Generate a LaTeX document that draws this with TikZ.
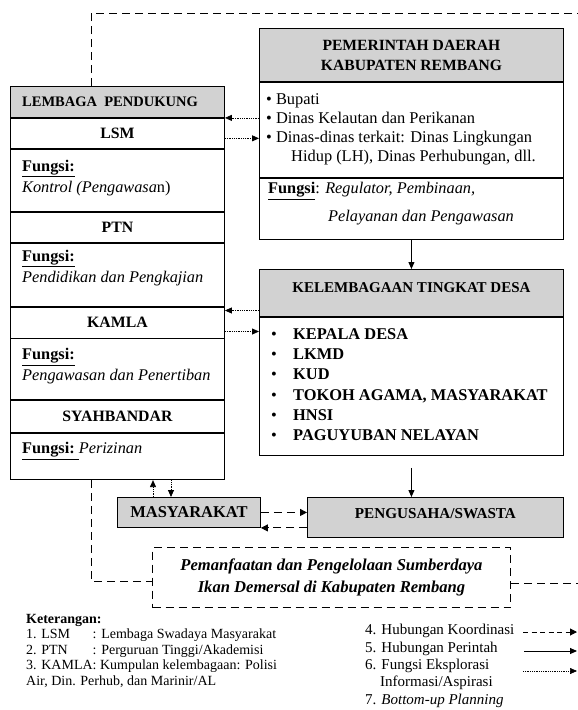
\documentclass[tikz,border=0pt]{standalone}
\usepackage{fontspec}
\usepackage{calc}
\setmainfont{Liberation Serif}
\usetikzlibrary{arrows.meta, positioning, calc}
\definecolor{headgray}{RGB}{210,210,210}
\newcommand{\fn}{\underline{\textbf{Fungsi:}}}
\newcommand{\bul}{\makebox[22pt][l]{\textbullet}}
\newcommand{\ketbox}[1]{\makebox[\widthof{3. KAMLA}][l]{#1}}

\begin{document}
\begin{tikzpicture}[x=1pt, y=-1pt,
  box/.style={draw, line width=0.9pt, inner sep=0pt, anchor=north west},
  headbox/.style={box, fill=headgray},
  koord/.style={line width=1pt, dash pattern=on 8pt off 5pt},
  koordarrow/.style={koord, -{Triangle[length=7pt,width=7pt]}},
  perintah/.style={line width=0.9pt, -{Triangle[length=7pt,width=6pt]}},
  info/.style={line width=0.8pt, dash pattern=on 0.8pt off 1pt, -{Triangle[length=7pt,width=6pt]}},
  hd/.style={inner sep=0pt, font=\fontsize{15.8}{18}\bfseries},
  txt/.style={inner sep=0pt, anchor=north west, align=left, font=\fontsize{16.3}{21}\selectfont},
  lg/.style={inner sep=0pt, anchor=north west, align=left, font=\fontsize{14}{15.5}\selectfont}
]
\useasboundingbox (0,0) rectangle (578,710);

% lembaga pendukung
\node[headbox, minimum width=214, minimum height=31] (lembHead) at (10,86) {};
\node[hd, anchor=west, font=\fontsize{14.5}{17}\bfseries] at ([xshift=12pt]lembHead.west) {LEMBAGA\ \ PENDUKUNG};
\node[box, hd, minimum width=214, minimum height=30] (lsm) at (lembHead.south west) {LSM};
\node[box, minimum width=214, minimum height=62] (lsmFn) at (lsm.south west) {};
\node[box, hd, minimum width=214, minimum height=30] (ptn) at (lsmFn.south west) {PTN};
\node[box, minimum width=214, minimum height=63] (ptnFn) at (ptn.south west) {};
\node[box, hd, minimum width=214, minimum height=31] (kamla) at (ptnFn.south west) {KAMLA};
\node[box, minimum width=214, minimum height=61] (kamlaFn) at (kamla.south west) {};
\node[box, hd, minimum width=214, minimum height=32] (syah) at (kamlaFn.south west) {SYAHBANDAR};
\node[box, minimum width=214, minimum height=46] (syahFn) at (syah.south west) {};
\node[txt] at ([xshift=12pt,yshift=-11pt]lsmFn.north west) {\fn\\\textit{Kontrol (Pengawasa}n)};
\node[txt] at ([xshift=12pt,yshift=-7pt]ptnFn.north west) {\fn\\\textit{Pendidikan dan Pengkajian}};
\node[txt] at ([xshift=12pt,yshift=-10pt]kamlaFn.north west) {\fn\\\textit{Pengawasan dan Penertiban}};
\node[txt] at ([xshift=12pt,yshift=-9pt]syahFn.north west) {\underline{\textbf{Fungsi:\ }}\textit{Perizinan}};

% pemerintah daerah
\node[headbox, minimum width=304, minimum height=53, align=center,
  font=\fontsize{15.6}{20}\bfseries] (pemdaHead) at (259,28) {PEMERINTAH DAERAH\\KABUPATEN REMBANG};
\node[box, minimum width=304, minimum height=95] (pemdaList) at (pemdaHead.south west) {};
\node[box, minimum width=304, minimum height=61] (pemdaFn) at (pemdaList.south west) {};
\node[txt, font=\fontsize{16.4}{19}\selectfont] at ([xshift=7pt,yshift=-11.5pt]pemdaList.north west)
  {\textbullet\ Bupati\\\textbullet\ Dinas Kelautan dan Perikanan\\\textbullet\ Dinas-dinas terkait: Dinas Lingkungan\\\hspace*{25pt}Hidup (LH), Dinas Perhubungan, dll.};
\node[txt, font=\fontsize{16.3}{28}\selectfont] at ([xshift=9pt,yshift=-4.5pt]pemdaFn.north west)
  {\underline{\textbf{Fungsi}}: \textit{Regulator, Pembinaan,}\\\hspace*{60pt}\textit{Pelayanan dan Pengawasan}};

% kelembagaan desa
\node[headbox, minimum width=304, minimum height=47] (desaHead) at (259,269) {};
\node[hd, font=\fontsize{15}{18}\bfseries] at ([yshift=5.5pt]desaHead.center) {KELEMBAGAAN TINGKAT DESA};
\node[box, minimum width=304, minimum height=138] (desaList) at (desaHead.south west) {};
\node[txt, font=\fontsize{16.4}{20.2}\selectfont] at ([xshift=12pt,yshift=-11.5pt]desaList.north west)
  {\bul\textbf{KEPALA DESA}\\\bul\textbf{LKMD}\\\bul\textbf{KUD}\\\bul\textbf{TOKOH AGAMA, MASYARAKAT}\\\bul\textbf{HNSI}\\\bul\textbf{PAGUYUBAN NELAYAN}};

% masyarakat, swasta, pemanfaatan
\node[headbox, minimum width=143, minimum height=30, font=\fontsize{16.5}{18}\bfseries] (masy) at (117,497) {MASYARAKAT};
\node[headbox, minimum width=256, minimum height=40] (swasta) at (307,497) {};
\node[hd, font=\fontsize{15.2}{17}\bfseries] at ([yshift=4pt]swasta.center) {PENGUSAHA/SWASTA};
\node[box, koord, minimum width=358, minimum height=60, align=center,
  font=\fontsize{16.6}{22}\bfseries\itshape] (pemanfaatan) at (152,547)
  {Pemanfaatan dan Pengelolaan Sumberdaya\\Ikan Demersal di Kabupaten Rembang};

% hubungan
\coordinate (topRight) at (578,13);
\draw[koord] ([xshift=-26pt]lembHead.north) |- (topRight);
\draw[koord] ([xshift=-26pt]syahFn.south) |- ([yshift=-4pt]pemanfaatan.west);
\draw[koord] ([yshift=-6pt]pemanfaatan.east) -- ++(68,0);
\draw[info] (pemdaList.west |- lembHead.south east) -- (lembHead.south east);
\draw[info] ($(lsm.east)+(0,5)$) -- ($(lsm.east -| pemdaList.west)+(0,5)$);
\draw[info] ($(kamla.north east -| desaHead.west)+(0,4)$) -- ($(kamla.north east)+(0,4)$);
\draw[info] ($(kamla.north east)+(0,25)$) -- ($(kamla.north east -| desaList.west)+(0,25)$);
\draw[perintah] (pemdaFn.south) -- (desaHead.north);
\draw[perintah] ($(desaList.south)+(0,12)$) -- (desaList.south |- swasta.north);
\draw[info] ($(masy.north west)+(36,0)$) coordinate (mUp) -- (mUp |- syahFn.south);
\draw[info] ($(syahFn.south west)+(161,0)$) coordinate (mDn) -- (mDn |- masy.north);
\draw[koordarrow] (masy.east) -- (masy.east -| swasta.west);
\draw[koordarrow] (swasta.west |- masy.south east) -- (masy.south east);

% keterangan
\node[lg] (ket) at (26,614) {\textbf{Keterangan:}\\\ketbox{1. LSM}: Lembaga Swadaya Masyarakat\\\ketbox{2. PTN}: Perguruan Tinggi/Akademisi\\3. KAMLA: Kumpulan kelembagaan: Polisi\\Air, Din. Perhub, dan Marinir/AL};
\node[lg, font=\fontsize{15}{17.4}\selectfont] (lgKanan) at (365,624) {4. Hubungan Koordinasi\\5. Hubungan Perintah\\6. Fungsi Eksplorasi\\\phantom{6.}\ Informasi/Aspirasi\\7. \textit{Bottom-up Planning}};
\coordinate (lkA) at (523,632);
\coordinate (lkB) at (524,651);
\coordinate (lkC) at (523,671);
\draw[koordarrow, dash pattern=on 5pt off 3.5pt] (lkA) -- ++(54,0);
\draw[perintah] (lkB) -- ++(53,0);
\draw[info, line width=0.6pt] (lkC) -- ++(54,0);
\end{tikzpicture}
\end{document}
